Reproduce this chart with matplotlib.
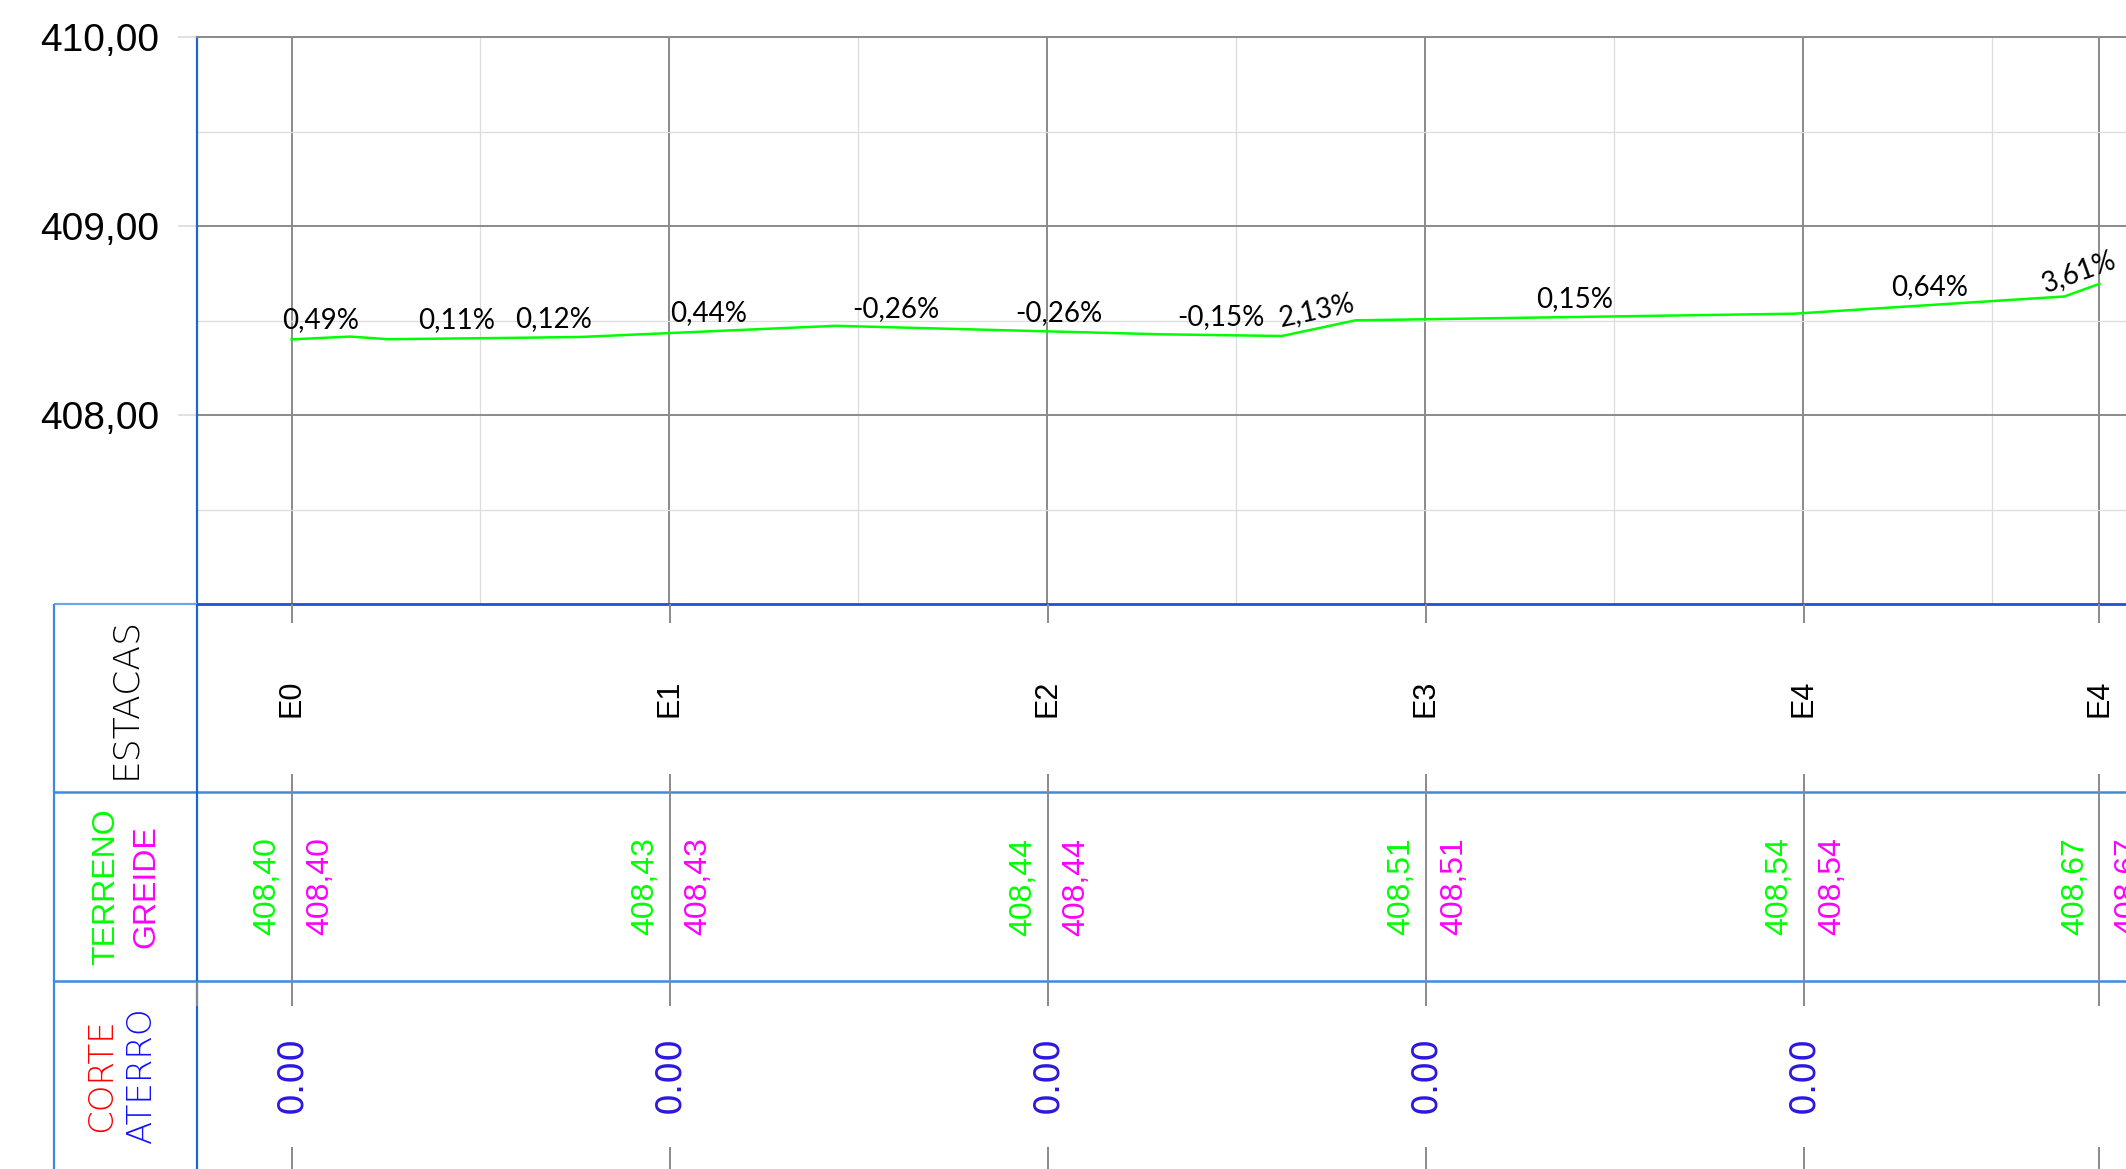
import numpy as np
import matplotlib
matplotlib.use("Agg")
import matplotlib.pyplot as plt


# --- perfil do terreno (distancia em m, cota em m) ---
dist = [0.0, 3.1, 5.1, 12.4, 15.3, 28.8, 35.2, 46.0, 52.4, 56.3, 79.5, 93.8, 95.66]
cota = [408.400, 408.415, 408.401, 408.409, 408.413, 408.472, 408.455,
        408.427, 408.418, 408.501, 408.536, 408.627, 408.694]
# rampa de cada trecho (o trecho 2 nao tem rotulo)
rampas = ["0,49%", "", "0,11%", "0,12%", "0,44%", "-0,26%", "-0,26%",
          "-0,15%", "2,13%", "0,15%", "0,64%", "3,61%"]

# --- tabela de estacas ---
estacas_x = [0, 20, 40, 60, 80, 95.66]
estacas = ["E0", "E1", "E2", "E3", "E4", "E4"]
terreno = ["408,40", "408,43", "408,44", "408,51", "408,54", "408,67"]
greide = ["408,40", "408,43", "408,44", "408,51", "408,54", "408,67"]
corte_aterro = ["0.00", "0.00", "0.00", "0.00", "0.00", ""]

y_ticks = [408, 409, 410]
y_labels = ["408,00", "409,00", "410,00"]

# --- geometria (pixels da figura) ---
W, H = 2126, 1169
px_m = 18.9            # pixels por metro na horizontal
x_e0 = 291.5           # posicao de E0
top_px, bot_px = 37, 604
left_px = x_e0 - 5 * px_m
tab_left_px = 54
x_right = (W - x_e0) / px_m

GRAY = "#8a8a8a"
LIGHT = "#dcdcdc"
BLUE_T = "#3d8ae0"
GREEN = "#00ff00"
MAGENTA = "#ff00ff"

fig = plt.figure(figsize=(W / 100, H / 100), dpi=100)

# --- grafico do perfil ---
ax = fig.add_axes([left_px / W, (H - bot_px) / H, (W - left_px) / W, (bot_px - top_px) / H])
ax.set_xlim(-5, x_right)
ax.set_ylim(407, 410)

ax.set_yticks(y_ticks, y_labels, fontsize=28, family="Liberation Sans")
ax.set_yticks([407.5, 408.5, 409.5], minor=True)
ax.set_xticks(estacas_x, [""] * len(estacas_x))
ax.set_xticks(np.arange(10, 95, 20), minor=True)
ax.grid(which="major", color=GRAY, lw=1.4)
ax.grid(which="minor", color=LIGHT, lw=0.9)
ax.tick_params(axis="y", which="major", length=14, color=LIGHT, width=1.2, pad=13)
ax.tick_params(axis="y", which="minor", length=0)
ax.tick_params(axis="x", which="both", length=0)

ax.spines["right"].set_visible(False)
ax.spines["top"].set_color(GRAY)
ax.spines["top"].set_linewidth(1.4)
ax.spines["left"].set_color("#1a66d6")
ax.spines["left"].set_linewidth(1.6)
ax.spines["bottom"].set_color("#1f4fd6")
ax.spines["bottom"].set_linewidth(2.0)

ax.plot(dist, cota, color=GREEN, lw=1.8, zorder=3)

# rotulos de rampa no meio de cada trecho
for i, txt in enumerate(rampas):
    if not txt:
        continue
    xm = (dist[i] + dist[i + 1]) / 2
    ym = (cota[i] + cota[i + 1]) / 2
    slope = (cota[i + 1] - cota[i]) / (dist[i + 1] - dist[i])
    ang = 0.0
    if abs(slope) > 0.01:
        ang = ax.transData.transform_angles(
            [np.degrees(np.arctan(slope))], np.array([[xm, ym]]))[0]
    ax.annotate(txt, (xm, ym), xytext=(0, 7.5), textcoords="offset points",
                ha="center", va="baseline", rotation=ang, rotation_mode="anchor",
                fontsize=20, family="Lato", color="black", zorder=4)

# --- tabela inferior ---
tab = fig.add_axes([tab_left_px / W, 0, (W - tab_left_px) / W, (H - bot_px) / H])
x_tab = -5 - (left_px - tab_left_px) / px_m
tab.set_xlim(x_tab, x_right)
tab.set_ylim(0, 3)
tab.axis("off")

tab.hlines([1, 2], x_tab, x_right, color=BLUE_T, lw=1.8)
tab.hlines(3, x_tab, -5, color="#6aa8e8", lw=1.6, clip_on=False)
tab.vlines(x_tab, 0, 3, color=BLUE_T, lw=1.6, clip_on=False)
tab.vlines(-5, 0, 3, color="#1a66d6", lw=1.6)
tab.vlines(-5, 0.865, 1, color=GRAY, lw=1.4, zorder=3)

# marcas das estacas nas linhas da tabela
tab.vlines(estacas_x, 2.897, 3, color=GRAY, lw=1.4)
tab.vlines(estacas_x, 0.865, 2.1, color=GRAY, lw=1.4)
tab.vlines(estacas_x, 0, 0.117, color=GRAY, lw=1.4)

col_x = (x_tab - 5) / 2
tab.text(col_x, 2.5, "ESTACAS", rotation=90, ha="center", va="center",
         fontsize=26, family="DejaVu Sans", fontweight="light", color="black")
tab.annotate("TERRENO", (col_x, 1.5), xytext=(-14, 0), textcoords="offset points",
             rotation=90, ha="center", va="center", fontsize=23,
             family="Liberation Sans", color=GREEN)
tab.annotate("GREIDE", (col_x, 1.5), xytext=(15, 0), textcoords="offset points",
             rotation=90, ha="center", va="center", fontsize=23,
             family="Liberation Sans", color=MAGENTA)
tab.annotate("CORTE", (col_x, 0.5), xytext=(-17, 0), textcoords="offset points",
             rotation=90, ha="center", va="center", fontsize=24.5,
             family="DejaVu Sans", fontweight="light", color="#ff0000")
tab.annotate("ATERRO", (col_x, 0.5), xytext=(11.5, 0), textcoords="offset points",
             rotation=90, ha="center", va="center", fontsize=24.5,
             family="DejaVu Sans", fontweight="light", color="#1010ff")

for x, e, t, g, c in zip(estacas_x, estacas, terreno, greide, corte_aterro):
    tab.text(x, 2.5, e, rotation=90, ha="center", va="center", fontsize=22,
             family="Liberation Sans", color="black")
    tab.annotate(t, (x, 1.5), xytext=(-17.3, 0), textcoords="offset points",
                 rotation=90, ha="center", va="center", fontsize=23,
                 family="Liberation Sans", color=GREEN)
    tab.annotate(g, (x, 1.5), xytext=(20.9, 0), textcoords="offset points",
                 rotation=90, ha="center", va="center", fontsize=23,
                 family="Liberation Sans", color=MAGENTA, annotation_clip=False)
    if c:
        tab.text(x, 0.5, c, rotation=90, ha="center", va="center", fontsize=25,
                 family="DejaVu Sans", color="#2b17e0")

fig.savefig("out.png", dpi=100)
